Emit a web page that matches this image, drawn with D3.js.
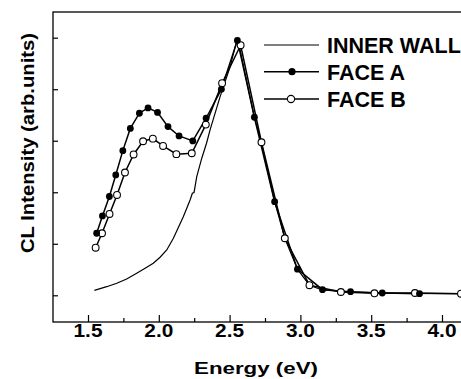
<!DOCTYPE html>
<html><head><meta charset="utf-8">
<script src="https://cdn.jsdelivr.net/npm/d3@7"></script>
<style>html,body{margin:0;padding:0;background:#fff;overflow:hidden}svg{display:block}text{font-family:"Liberation Sans",Arial,sans-serif;font-weight:bold;fill:#000}</style>
</head><body><svg id="c" width="461" height="379"></svg>
<script>
const faceAEnergy = [1.561,1.602,1.651,1.696,1.746,1.799,1.863,1.924,1.991,2.065,2.143,2.240,2.334,2.442,2.555,2.675,2.818,2.979,3.156,3.354,3.578,3.841];
const faceAValue  = [1.204,1.540,1.918,2.336,2.808,3.239,3.534,3.637,3.550,3.274,3.093,2.996,3.437,4.000,4.948,3.456,1.817,0.507,0.109,0.070,0.045,0.031];
const faceBEnergy = [1.554,1.599,1.652,1.705,1.761,1.822,1.889,1.958,2.030,2.124,2.233,2.332,2.447,2.578,2.725,2.890,3.064,3.286,3.523,3.809,4.134];
const faceBValue  = [0.924,1.204,1.579,1.948,2.384,2.734,2.990,3.041,2.899,2.740,2.757,3.313,4.117,4.854,2.971,1.107,0.196,0.064,0.039,0.045,0.031];
const innerEnergy = [1.545,1.632,1.703,1.773,1.844,1.915,1.961,2.009,2.056,2.103,2.173,2.221,2.237,2.249,2.268,2.304,2.337,2.362,2.433,2.504,2.556,2.675,2.723,2.818,2.890,2.979,3.064,3.154,3.352,3.705,4.136,4.25];
const innerValue  = [0.097,0.167,0.233,0.316,0.427,0.543,0.621,0.738,0.879,1.107,1.526,1.850,1.981,1.996,2.303,2.666,2.951,3.210,3.856,4.439,5.000,3.456,2.977,1.817,1.107,0.507,0.196,0.103,0.064,0.039,0.031,0.030];
const xTicks = [1.5,2.0,2.5,3.0,3.5,4.0];
const xMinorTicks = [1.75,2.25,2.75,3.25,3.75];
const xTickLabels = ["1.5","2.0","2.5","3.0","3.5","4.0"];
const yTicks = [0,1,2,3,4,5];
const legendLabels = ["INNER WALL","FACE A","FACE B"];

const svg = d3.select("#c");
const L=53, T=12, B=322, R=475;
const x = d3.scaleLinear().domain([1.5,4.0]).range([88,442]);
const y = d3.scaleLinear().domain([0,5]).range([295.3,37.7]);

svg.append("clipPath").attr("id","clip").append("rect").attr("x",L).attr("y",T).attr("width",R-L).attr("height",B-T);

svg.append("rect").attr("x",L).attr("y",T).attr("width",R-L).attr("height",B-T).attr("fill","none").attr("stroke","#000").attr("stroke-width",1.3);

const gx = svg.append("g").attr("transform",`translate(0,${B})`);
gx.call(d3.axisBottom(x).tickValues(xTicks).tickSize(-7).tickFormat(""));
gx.call(g=>g.select(".domain").remove());
const gxm = svg.append("g").attr("transform",`translate(0,${B})`);
gxm.call(d3.axisBottom(x).tickValues(xMinorTicks).tickSize(-4).tickFormat(""));
gxm.call(g=>g.select(".domain").remove());
svg.selectAll(".tick line").attr("stroke","#000").attr("stroke-width",1.2);
svg.append("g").selectAll("text").data(xTicks).join("text")
  .attr("x",d=>x(d)).attr("y",337).attr("text-anchor","middle")
  .attr("font-size",18.6).attr("textLength",29).attr("lengthAdjust","spacingAndGlyphs")
  .text((d,i)=>xTickLabels[i]);

const gy = svg.append("g").attr("transform",`translate(${L},0)`);
gy.call(d3.axisLeft(y).tickValues(yTicks).tickSize(-5).tickFormat(""));
gy.call(g=>g.select(".domain").remove());
gy.selectAll(".tick line").attr("stroke","#000").attr("stroke-width",1.2);

svg.append("text").attr("x",256).attr("y",373.5).attr("text-anchor","middle")
  .attr("font-size",17).attr("textLength",124).attr("lengthAdjust","spacingAndGlyphs").text("Energy (eV)");
svg.append("text").attr("transform","translate(33.5,143) rotate(-90)").attr("text-anchor","middle")
  .attr("font-size",18).attr("textLength",220).attr("lengthAdjust","spacingAndGlyphs").text("CL Intensity (arb.units)");

const plot = svg.append("g").attr("clip-path","url(#clip)");
const line = d3.line().x(d=>x(d[0])).y(d=>y(d[1]));
const inner = innerEnergy.map((e,i)=>[e,innerValue[i]]);
const fa = faceAEnergy.map((e,i)=>[e,faceAValue[i]]);
const fb = faceBEnergy.map((e,i)=>[e,faceBValue[i]]);
plot.append("path").datum(inner).attr("d",line).attr("fill","none").attr("stroke","#000").attr("stroke-width",1.2);
plot.append("path").datum(fb).attr("d",line).attr("fill","none").attr("stroke","#000").attr("stroke-width",1.5);
plot.append("path").datum(fa).attr("d",line).attr("fill","none").attr("stroke","#000").attr("stroke-width",1.5);
plot.append("g").selectAll("circle").data(fb).join("circle")
  .attr("cx",d=>x(d[0])).attr("cy",d=>y(d[1])).attr("r",3.4).attr("fill","#fff").attr("stroke","#000").attr("stroke-width",1.1);
plot.append("g").selectAll("circle").data(fa).join("circle")
  .attr("cx",d=>x(d[0])).attr("cy",d=>y(d[1])).attr("r",3.4).attr("fill","#000");

const ly=[45,71.7,99];
const lg = svg.append("g");
legendLabels.forEach((lab,i)=>{
  lg.append("line").attr("x1",264).attr("x2",319).attr("y1",ly[i]).attr("y2",ly[i]).attr("stroke","#000").attr("stroke-width",i===0?1.2:1.5);
  if(i===1) lg.append("circle").attr("cx",292).attr("cy",ly[i]).attr("r",3.6).attr("fill","#000");
  if(i===2) lg.append("circle").attr("cx",291).attr("cy",ly[i]).attr("r",3.6).attr("fill","#fff").attr("stroke","#000").attr("stroke-width",1.1);
  lg.append("text").attr("x",327).attr("y",ly[i]+8).attr("font-size",21.5).text(lab);
});
</script></body></html>
